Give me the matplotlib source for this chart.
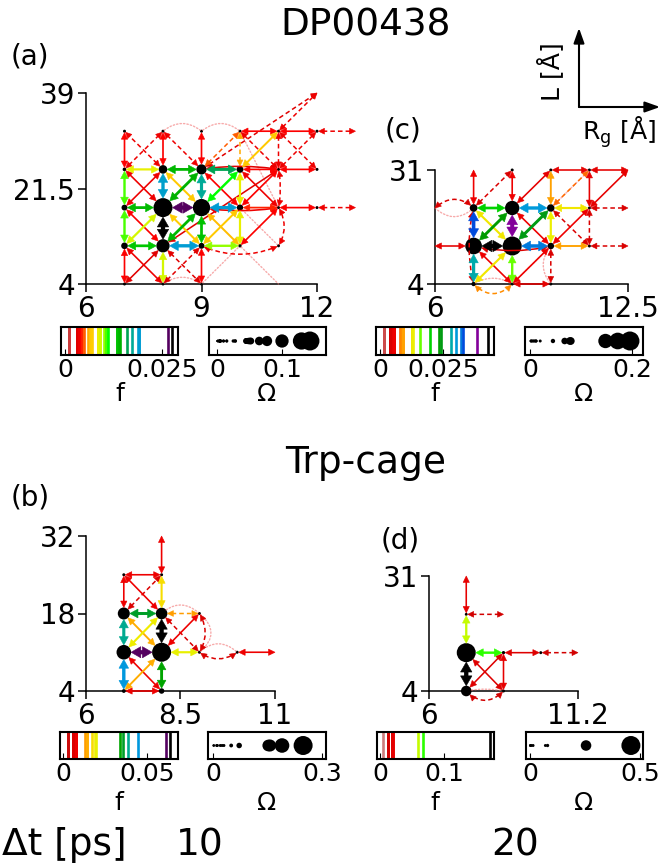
import numpy as np
import matplotlib
matplotlib.use("Agg")
import matplotlib.pyplot as plt
from matplotlib.patches import FancyArrowPatch, ArrowStyle
from matplotlib.transforms import IdentityTransform

plt.rcParams['font.family'] = ['DejaVu Sans']

# ---------------- data ----------------
# nodes: (Rg, L, Omega)
NODES_A = [(8, 18, 0.143), (9, 18, 0.130), (8, 11, 0.100), (9, 25, 0.077), (8, 25, 0.065),
           (7, 11, 0.050), (10, 18, 0.048), (10, 25, 0.052), (9, 11, 0.045), (7, 18, 0.045),
           (7, 25, 0.028), (10, 11, 0.025), (11, 18, 0.015), (11, 25, 0.015), (10, 32, 0.010),
           (11, 32, 0.010), (12, 32, 0.005), (12, 25, 0.004), (12, 18, 0.005), (13, 32, 0.001),
           (13, 18, 0.001), (12, 39, 0.001), (7, 4, 0.004), (8, 4, 0.006), (9, 4, 0.004),
           (7, 32, 0.004), (8, 32, 0.005), (9, 32, 0.005), (11, 11, 0.003)]
# edges: (Rg1, L1, Rg2, L2, f, kind)  kind: s solid, d dashed, o dotted
EDGES_A = [(8, 11, 8, 18, 0.0276, 's'), (8, 18, 9, 18, 0.0266, 's'), (9, 18, 10, 18, 0.0190, 's'),
           (8, 11, 9, 11, 0.0190, 's'), (8, 18, 8, 25, 0.0188, 's'), (9, 18, 9, 25, 0.0172, 's'),
           (9, 25, 10, 25, 0.0160, 's'), (8, 25, 9, 25, 0.0140, 's'), (7, 18, 8, 18, 0.0138, 's'),
           (7, 11, 8, 11, 0.0133, 's'), (9, 11, 9, 18, 0.0135, 's'), (8, 11, 9, 18, 0.0140, 's'),
           (8, 18, 9, 25, 0.0142, 's'), (8, 25, 9, 18, 0.0068, 's'), (8, 18, 9, 11, 0.0070, 's'),
           (7, 11, 8, 18, 0.0090, 's'), (7, 18, 8, 11, 0.0040, 's'), (7, 18, 8, 25, 0.0035, 's'),
           (7, 25, 8, 18, 0.0035, 's'), (7, 4, 8, 11, 0.0030, 's'), (7, 11, 8, 4, 0.0035, 's'),
           (7, 25, 8, 25, 0.0085, 's'), (7, 11, 7, 18, 0.0105, 's'), (7, 18, 7, 25, 0.0105, 's'),
           (8, 4, 8, 11, 0.0090, 's'), (7, 4, 7, 11, 0.0040, 's'), (9, 4, 9, 11, 0.0040, 's'),
           (7, 25, 7, 32, 0.0040, 's'), (8, 25, 8, 32, 0.0040, 's'), (9, 25, 9, 32, 0.0040, 's'),
           (9, 11, 10, 11, 0.0100, 's'), (10, 11, 10, 18, 0.0085, 's'), (10, 18, 10, 25, 0.0085, 's'),
           (9, 11, 10, 18, 0.0068, 's'), (9, 18, 10, 11, 0.0065, 's'), (9, 18, 10, 25, 0.0110, 's'),
           (9, 25, 10, 18, 0.0040, 's'), (10, 18, 11, 18, 0.0045, 's'), (10, 25, 11, 25, 0.0040, 's'),
           (9, 25, 11, 25, 0.0030, 's'), (11, 25, 12, 25, 0.0040, 's'), (11, 18, 12, 18, 0.0040, 's'),
           (10, 32, 11, 32, 0.0040, 's'), (11, 32, 12, 32, 0.0040, 's'), (10, 25, 11, 32, 0.0068, 's'),
           (10, 18, 11, 25, 0.0040, 's'), (10, 25, 11, 18, 0.0035, 's'), (8, 11, 11, 25, 0.0030, 's'),
           (9, 18, 11, 18, 0.0035, 's'), (10, 11, 11, 18, 0.0040, 's'),
           (12, 32, 13, 32, 0.0035, 'd'), (12, 18, 13, 18, 0.0035, 'd'), (9, 25, 12, 39, 0.0030, 'd'),
           (11, 32, 12, 39, 0.0035, 'd'), (7, 25, 8, 32, 0.0035, 'd'), (8, 25, 7, 32, 0.0035, 'd'),
           (8, 32, 9, 25, 0.0035, 'd'), (9, 25, 10, 32, 0.0050, 'd'), (10, 25, 10, 32, 0.0060, 'd'),
           (11, 25, 11, 32, 0.0035, 'd'), (11, 18, 11, 25, 0.0035, 'd'), (11, 11, 11, 18, 0.0035, 'd'),
           (9, 11, 11, 11, 0.0035, 'd'), (10, 32, 11, 25, 0.0035, 'd'), (11, 32, 12, 25, 0.0035, 'd'),
           (11, 25, 12, 32, 0.0035, 'd'), (8, 4, 9, 11, 0.0030, 'd'), (8, 11, 9, 4, 0.0030, 'd'),
           (8, 32, 9, 32, 0.0010, 'o'), (9, 32, 10, 32, 0.0010, 'o'), (8, 4, 9, 4, 0.0010, 'o'),
           (10, 11, 11, 4, 0.0010, 'o'), (10, 18, 11, 11, 0.0010, 'o'), (9, 4, 10, 11, 0.0010, 'o'),
           (10, 32, 11, 18, 0.0010, 'o')]

NODES_C = [(8.6, 13, 0.196), (7.3, 13, 0.172), (8.6, 22, 0.148), (7.3, 22, 0.080), (9.9, 22, 0.078),
           (9.9, 13, 0.068), (7.3, 4, 0.045), (8.6, 4, 0.020), (11.2, 13, 0.012), (11.2, 22, 0.012),
           (11.2, 31, 0.010), (9.9, 31, 0.008), (12.5, 31, 0.002), (7.3, 31, 0.002), (8.6, 31, 0.006),
           (6.0, 13, 0.002), (6.0, 22, 0.002), (12.5, 22, 0.002), (12.5, 13, 0.002), (9.9, 4, 0.004)]
EDGES_C = [(7.3, 13, 8.6, 13, 0.0430, 's'), (8.6, 13, 8.6, 22, 0.0385, 's'), (7.3, 13, 7.3, 22, 0.0330, 's'),
           (8.6, 13, 9.9, 13, 0.0320, 's'), (8.6, 22, 9.9, 22, 0.0300, 's'), (7.3, 4, 7.3, 13, 0.0280, 's'),
           (8.6, 13, 9.9, 22, 0.0240, 's'), (7.3, 13, 8.6, 22, 0.0235, 's'), (7.3, 22, 8.6, 22, 0.0200, 's'),
           (8.6, 4, 8.6, 13, 0.0160, 's'), (9.9, 13, 9.9, 22, 0.0130, 's'), (9.9, 22, 11.2, 22, 0.0125, 's'),
           (7.3, 22, 8.6, 13, 0.0125, 's'), (7.3, 4, 8.6, 13, 0.0125, 's'), (9.9, 13, 11.2, 13, 0.0090, 's'),
           (9.9, 22, 9.9, 31, 0.0090, 's'), (8.6, 22, 9.9, 13, 0.0055, 's'), (7.3, 13, 8.6, 4, 0.0055, 's'),
           (8.6, 4, 9.9, 13, 0.0055, 's'), (9.9, 13, 11.2, 22, 0.0055, 's'), (7.3, 22, 7.3, 31, 0.0055, 's'),
           (8.6, 22, 8.6, 31, 0.0055, 's'), (8.6, 22, 9.9, 31, 0.0050, 's'), (6.0, 13, 7.3, 13, 0.0050, 's'),
           (8.6, 4, 9.9, 4, 0.0050, 's'), (9.9, 31, 11.2, 31, 0.0050, 's'), (11.2, 31, 12.5, 31, 0.0050, 's'),
           (11.2, 22, 11.2, 31, 0.0050, 's'), (11.2, 22, 12.5, 31, 0.0050, 's'), (7.3, 13, 9.9, 13, 0.0040, 's'),
           (9.9, 22, 11.2, 31, 0.0080, 'd'), (11.2, 13, 11.2, 22, 0.0040, 'd'), (11.2, 22, 12.5, 22, 0.0040, 'd'),
           (11.2, 13, 12.5, 13, 0.0040, 'd'), (7.3, 22, 8.6, 31, 0.0040, 'd'), (6.0, 22, 7.3, 22, 0.0040, 'd'),
           (7.3, 4, 8.6, 4, 0.0085, 'd'), (9.9, 13, 9.9, 4, 0.0040, 'd'), (9.9, 22, 11.2, 13, 0.0040, 'd'),
           (7.3, 4, 7.3, 22, 0.0040, 'd'),
           (6.0, 22, 7.3, 22, 0.0015, 'o'), (7.3, 4, 8.6, 4, 0.0015, 'o'), (8.6, 4, 9.9, 13, 0.0015, 'o'),
           (9.9, 22, 11.2, 31, 0.0015, 'o'), (9.9, 4, 9.9, 13, 0.0015, 'o')]

NODES_B = [(8, 11, 0.248), (7, 11, 0.190), (7, 18, 0.157), (8, 18, 0.152), (8, 4, 0.072), (7, 4, 0.050),
           (7, 25, 0.025), (8, 25, 0.030), (9, 18, 0.012), (9, 11, 0.020), (10, 11, 0.010), (8, 32, 0.002),
           (11, 11, 0.002)]
EDGES_B = [(8, 11, 8, 18, 0.0637, 's'), (7, 11, 8, 11, 0.0613, 's'), (7, 4, 7, 11, 0.0446, 's'),
           (7, 11, 7, 18, 0.0390, 's'), (8, 4, 8, 11, 0.0340, 's'), (7, 18, 8, 18, 0.0360, 's'),
           (7, 11, 8, 18, 0.0190, 's'), (8, 11, 9, 11, 0.0195, 's'), (8, 18, 8, 25, 0.0175, 's'),
           (7, 18, 8, 11, 0.0140, 's'), (7, 4, 8, 11, 0.0140, 's'), (7, 11, 8, 4, 0.0080, 's'),
           (7, 4, 8, 4, 0.0080, 's'), (7, 18, 7, 25, 0.0080, 's'), (7, 25, 8, 25, 0.0080, 's'),
           (7, 25, 8, 18, 0.0080, 's'), (8, 25, 8, 32, 0.0080, 's'), (8, 11, 9, 18, 0.0080, 's'),
           (10, 11, 11, 11, 0.0080, 's'),
           (7, 18, 8, 25, 0.0060, 'd'), (8, 18, 9, 11, 0.0060, 'd'), (8, 18, 9, 18, 0.0130, 'd'),
           (9, 11, 9, 18, 0.0060, 'd'), (9, 11, 10, 11, 0.0060, 'd'),
           (8, 18, 9, 18, 0.0030, 'o'), (9, 18, 9, 11, 0.0030, 'o'), (9, 11, 10, 11, 0.0030, 'o')]

NODES_D = [(7.3, 13, 0.459), (7.3, 4, 0.255), (8.6, 13, 0.080), (7.3, 22, 0.070), (8.6, 4, 0.014),
           (9.9, 13, 0.005), (7.3, 31, 0.002), (8.6, 22, 0.002), (11.2, 13, 0.002)]
EDGES_D = [(7.3, 4, 7.3, 13, 0.1720, 's'), (7.3, 13, 8.6, 13, 0.0670, 's'), (7.3, 13, 7.3, 22, 0.0590, 's'),
           (7.3, 22, 7.3, 31, 0.0200, 's'), (8.6, 13, 9.9, 13, 0.0180, 's'), (8.6, 4, 8.6, 13, 0.0200, 's'),
           (7.3, 4, 8.6, 13, 0.0180, 's'), (7.3, 13, 8.6, 4, 0.0180, 's'),
           (7.3, 22, 8.6, 22, 0.0120, 'd'), (9.9, 13, 11.2, 13, 0.0120, 'd'), (7.3, 4, 8.6, 4, 0.0120, 'd'),
           (7.3, 4, 8.6, 4, 0.0040, 'o')]

# axis ticks
XTICKS_A, YTICKS_A = [6, 9, 12], [4, 21.5, 39]
XTICKS_B, YTICKS_B = [6, 8.5, 11], [4, 18, 32]
XTICKS_C, YTICKS_C = [6, 12.5], [4, 31]
XTICKS_D, YTICKS_D = [6, 11.2], [4, 31]
FTICKS_A, OTICKS_A = [0, 0.025], [0, 0.1]
FTICKS_B, OTICKS_B = [0, 0.05], [0, 0.3]
FTICKS_C, OTICKS_C = [0, 0.025], [0, 0.2]
FTICKS_D, OTICKS_D = [0, 0.1], [0, 0.5]

# curvature of some curved edges (style)
BENDS_A = {(9, 25, 11, 25, 's'): -0.08, (9, 18, 11, 18, 's'): 0.08, (9, 11, 11, 11, 'd'): 0.22,
           (11, 11, 11, 18, 'd'): 0.3, (8, 32, 9, 32, 'o'): -0.4, (9, 32, 10, 32, 'o'): -0.4,
           (8, 4, 9, 4, 'o'): -0.35, (11, 18, 11, 25, 'd'): 0.1}
BENDS_B = {(9, 11, 9, 18, 'd'): 0.3, (9, 18, 9, 11, 'o'): -0.6, (9, 11, 10, 11, 'd'): 0.35,
           (9, 11, 10, 11, 'o'): -0.45, (8, 18, 9, 18, 'o'): -0.45}
BENDS_C = {(6.0, 22, 7.3, 22, 'd'): -0.45, (6.0, 22, 7.3, 22, 'o'): 0.45, (7.3, 4, 8.6, 4, 'd'): 0.5,
           (7.3, 4, 8.6, 4, 'o'): -0.3, (7.3, 13, 9.9, 13, 's'): 0.12, (7.3, 4, 7.3, 22, 'd'): -0.12,
           (9.9, 4, 9.9, 13, 'o'): -0.4}
BENDS_D = {(7.3, 4, 8.6, 4, 'd'): 0.5, (7.3, 4, 8.6, 4, 'o'): -0.1}

# ---------------- drawing ----------------
W, H, DPI = 661, 864, 100
fig = plt.figure(figsize=(W / DPI, H / DPI), dpi=DPI)
fig.patch.set_facecolor('white')
CMAP = plt.get_cmap('nipy_spectral_r')
PT = 72.0 / DPI  # points per pixel


def px_axes(l, t, r, b):
    return fig.add_axes([l / W, 1 - b / H, (r - l) / W, (b - t) / H])


def diam_px(om, ommax):
    d = 19.0 * om / ommax
    return d if d >= 2.5 else (3.0 if om >= 0.003 else 0.0)


def unit(v):
    return v / (np.hypot(*v) + 1e-9)


def head(tip, direction, col, hl, hw, z):
    """filled arrow head (sizes in points) with its tip at `tip` (pixels)."""
    d = unit(direction)
    n = np.array([-d[1], d[0]])
    L = hl / PT
    Wd = hw / PT
    base = tip - d * L
    pts = np.array([tip, base + n * Wd, base - n * Wd])
    poly = plt.Polygon(pts, closed=True, facecolor=col, edgecolor=col, lw=0.4,
                       transform=IdentityTransform(), zorder=z)
    fig.add_artist(poly)


def draw_panel(ax, nodes, edges, bends, xlim, ylim, xticks, yticks):
    ax.set_xlim(*xlim)
    ax.set_ylim(*ylim)
    ax.set_facecolor('none')
    for s in ['top', 'right']:
        ax.spines[s].set_visible(False)
    for s in ['left', 'bottom']:
        ax.spines[s].set_linewidth(1.1)
    ax.set_xticks(xticks)
    ax.set_yticks(yticks)
    ax.set_xticklabels([f"{v:g}" for v in xticks])
    ax.set_yticklabels([f"{v:g}" for v in yticks])
    ax.tick_params(labelsize=20, length=6, width=1.1, pad=2)
    T = ax.transData
    fmax = max(e[4] for e in edges)
    ommax = max(n[2] for n in nodes)
    rad_px = {(n[0], n[1]): diam_px(n[2], ommax) / 2 for n in nodes}
    order = sorted(range(len(edges)), key=lambda i: (edges[i][5] == 's', edges[i][4]))
    for i in order:
        x1, y1, x2, y2, f, kind = edges[i]
        r = f / fmax
        col = CMAP(r)
        rad = bends.get((x1, y1, x2, y2, kind), 0.0)
        p1 = T.transform((x1, y1))
        p2 = T.transform((x2, y2))
        ra = rad_px.get((x1, y1), 0.0)
        rb = rad_px.get((x2, y2), 0.0)
        cs = f"arc3,rad={rad}"
        mid = (p1 + p2) / 2
        dd = p2 - p1
        c = mid + rad * np.array([dd[1], -dd[0]])
        t2 = unit(p2 - c)
        t1 = unit(p1 - c)
        z = 2 + r if kind == 's' else 1.5
        if kind == 'o':
            a = FancyArrowPatch(tuple(p1), tuple(p2), arrowstyle='-', connectionstyle=cs,
                                shrinkA=ra * PT, shrinkB=rb * PT, lw=1.0, ls=(0, (1, 1.5)),
                                color=(0.95, 0.45, 0.45), alpha=0.6,
                                transform=IdentityTransform(), zorder=1.2)
            fig.add_artist(a)
            continue
        if kind == 's':
            lw = 0.9 + 2.2 * r
            hl = 4.3 + 2.8 * r
            hw = 2.0 + 2.1 * r
            ls = '-'
        else:
            lw = 1.1
            hl = 4.3
            hw = 2.1
            ls = (0, (3, 2))
        a = FancyArrowPatch(tuple(p1), tuple(p2), arrowstyle='-', connectionstyle=cs,
                            shrinkA=ra * PT + hl * 0.7, shrinkB=rb * PT + hl * 0.7, lw=lw, ls=ls,
                            color=col, transform=IdentityTransform(), zorder=z,
                            capstyle='butt')
        fig.add_artist(a)
        head(p2 - t2 * rb, t2, col, hl, hw, z + 0.01)
        head(p1 - t1 * ra, t1, col, hl, hw, z + 0.01)
    xs = [n[0] for n in nodes]
    ys = [n[1] for n in nodes]
    ss = [(diam_px(n[2], ommax) * PT) ** 2 for n in nodes]
    ax.scatter(xs, ys, s=ss, c='black', zorder=10, clip_on=False, linewidths=0)


def style_box(ax, xlim, ticks):
    ax.set_xlim(*xlim)
    ax.set_ylim(0, 1)
    ax.set_yticks([])
    ax.set_xticks(ticks)
    ax.set_xticklabels([f"{v:g}" for v in ticks])
    ax.tick_params(axis='x', direction='in', length=4, labelsize=18, pad=2)
    for s in ax.spines.values():
        s.set_linewidth(1.5)


def draw_fbox(ax, edges, xlim, ticks):
    fmax = max(e[4] for e in edges)
    fs = sorted(e[4] for e in edges)
    for f in fs:
        ax.axvline(f, color=CMAP(f / fmax), lw=1.9)
    style_box(ax, xlim, ticks)


def draw_obox(ax, nodes, xlim, ticks):
    ommax = max(n[2] for n in nodes)
    oms = sorted(n[2] for n in nodes)
    ax.scatter(oms, [0.5] * len(oms), s=[(max(diam_px(o, ommax), 2.5) * PT) ** 2 for o in oms],
               c='black', linewidths=0, zorder=3)
    style_box(ax, xlim, ticks)


# panel axes (pixel boxes: left, top, right, bottom)
axA = px_axes(86, 93, 317, 284)
axC = px_axes(435, 170, 628, 284)
axB = px_axes(86, 536, 275, 691)
axD = px_axes(429, 576, 578, 691)

draw_panel(axA, NODES_A, EDGES_A, BENDS_A, (6, 12), (4, 39), XTICKS_A, YTICKS_A)
draw_panel(axC, NODES_C, EDGES_C, BENDS_C, (6, 12.5), (4, 31), XTICKS_C, YTICKS_C)
draw_panel(axB, NODES_B, EDGES_B, BENDS_B, (6, 11), (4, 32), XTICKS_B, YTICKS_B)
draw_panel(axD, NODES_D, EDGES_D, BENDS_D, (6, 11.2), (4, 31), XTICKS_D, YTICKS_D)

draw_fbox(px_axes(61, 327, 178, 355), EDGES_A, (-0.00103, 0.0291), FTICKS_A)
draw_obox(px_axes(209, 327, 326, 355), NODES_A, (-0.0123, 0.1677), OTICKS_A)
draw_fbox(px_axes(376, 327, 494, 355), EDGES_C, (-0.0016, 0.0452), FTICKS_C)
draw_obox(px_axes(525, 327, 643, 355), NODES_C, (-0.0098, 0.2216), OTICKS_C)
draw_fbox(px_axes(60, 732, 178, 759), EDGES_B, (-0.0018, 0.0685), FTICKS_B)
draw_obox(px_axes(208, 732, 326, 759), NODES_B, (-0.0138, 0.311), OTICKS_B)
draw_fbox(px_axes(377, 732, 494, 759), EDGES_D, (-0.0047, 0.178), FTICKS_D)
draw_obox(px_axes(526, 732, 643, 759), NODES_D, (-0.018, 0.514), OTICKS_D)


def ftext(x, y, s, **kw):
    fig.text(x / W, 1 - y / H, s, **kw)


ftext(366, 26, "DP00438", fontsize=27, ha='center', va='center')
ftext(366, 463, "Trp-cage", fontsize=27, ha='center', va='center')
ftext(30, 56, "(a)", fontsize=20, ha='center', va='center')
ftext(30, 498, "(b)", fontsize=20, ha='center', va='center')
ftext(403, 130, "(c)", fontsize=20, ha='center', va='center')
ftext(400, 540, "(d)", fontsize=20, ha='center', va='center')
for (xx, yy, s) in [(120, 394, "f"), (267, 394, "Ω"), (435, 394, "f"), (584, 394, "Ω"),
                    (119, 803, "f"), (267, 803, "Ω"), (435, 803, "f"), (584, 803, "Ω")]:
    ftext(xx, yy, s, fontsize=18, ha='center', va='center')

ftext(2, 845, "Δt [ps]", fontsize=27, ha='left', va='center')
ftext(200, 845, "10", fontsize=27, ha='center', va='center')
ftext(515, 845, "20", fontsize=27, ha='center', va='center')

# axis legend arrows
for (xa, ya, xb, yb) in [(579, 107, 579, 28), (579, 107, 660, 107)]:
    arr = FancyArrowPatch((xa / W, 1 - ya / H), (xb / W, 1 - yb / H), transform=fig.transFigure,
                          arrowstyle=ArrowStyle('-|>', head_length=9, head_width=3.2),
                          mutation_scale=1, lw=1.5, color='black', shrinkA=0, shrinkB=0)
    fig.add_artist(arr)
ftext(551, 72, "L [Å]", fontsize=18, ha='center', va='center', rotation=90)
ftext(619, 132, "R$_\\mathregular{g}$ [Å]", fontsize=18, ha='center', va='center')

fig.savefig("out.png", dpi=DPI, facecolor='white')
